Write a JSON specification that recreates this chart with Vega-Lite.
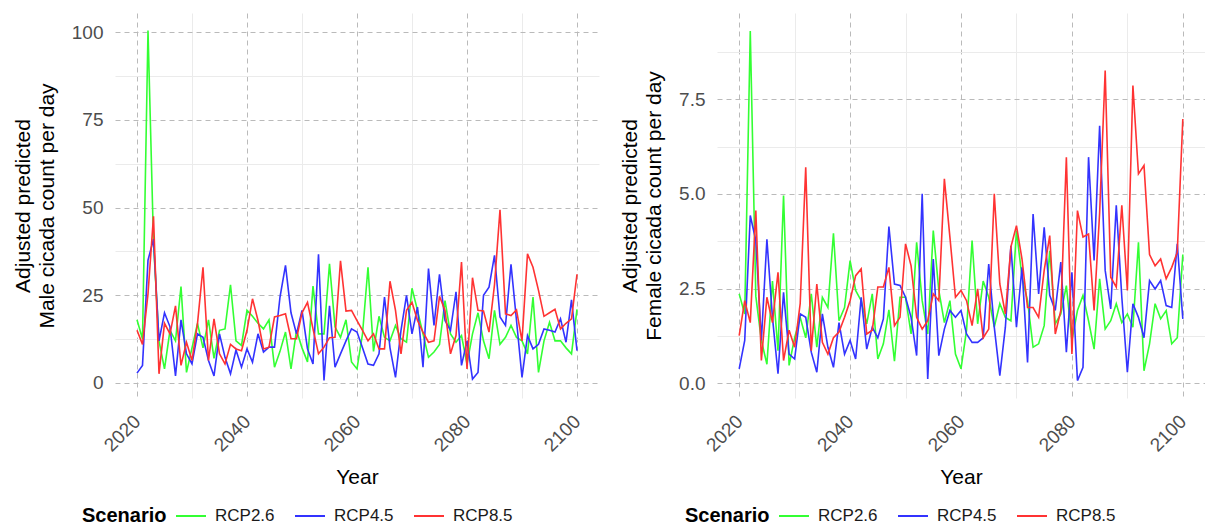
{
  "$schema": "https://vega.github.io/schema/vega-lite/v6.json",
  "padding": {"left": 12, "top": 13, "right": 0, "bottom": 0},
  "background": "white",
  "config": {
    "font": "Liberation Sans",
    "view": {"stroke": null},
    "concat": {"spacing": 20},
    "axis": {
      "domain": false,
      "ticks": false,
      "labelFontSize": 19,
      "labelColor": "#4d4d4d",
      "titleFontSize": 21,
      "titleFontWeight": "normal",
      "titleColor": "#000000",
      "labelFlush": false,
      "labelOverlap": false,
      "gridWidth": 1
    },
    "legend": {
      "orient": "none",
      "direction": "horizontal",
      "titleOrient": "left",
      "titleAnchor": "middle",
      "titleBaseline": "line-top",
      "titleLineHeight": 8,
      "titleFontSize": 20,
      "titleFontWeight": "bold",
      "titleColor": "#000000",
      "titlePadding": 8,
      "labelFontSize": 17,
      "labelColor": "#1a1a1a",
      "labelBaseline": "middle",
      "labelOffset": 8,
      "columnPadding": 16,
      "symbolType": "stroke",
      "symbolSize": 900,
      "symbolStrokeWidth": 2
    }
  },
  "datasets": {
    "cicada": [
      {"Year":2020,"Scenario":"RCP2.6","Male":18,"Female":2.36},{"Year":2021,"Scenario":"RCP2.6","Male":12.5,"Female":1.83},{"Year":2022,"Scenario":"RCP2.6","Male":100.5,"Female":9.3},{"Year":2023,"Scenario":"RCP2.6","Male":40,"Female":2.3},{"Year":2024,"Scenario":"RCP2.6","Male":12,"Female":1.13},{"Year":2025,"Scenario":"RCP2.6","Male":4,"Female":0.5},{"Year":2026,"Scenario":"RCP2.6","Male":15,"Female":2.7},{"Year":2027,"Scenario":"RCP2.6","Male":12,"Female":0.86},{"Year":2028,"Scenario":"RCP2.6","Male":27.5,"Female":4.96},{"Year":2029,"Scenario":"RCP2.6","Male":3,"Female":0.47},
      {"Year":2030,"Scenario":"RCP2.6","Male":10,"Female":1.2},{"Year":2031,"Scenario":"RCP2.6","Male":17,"Female":1.74},{"Year":2032,"Scenario":"RCP2.6","Male":10,"Female":1.2},{"Year":2033,"Scenario":"RCP2.6","Male":18,"Female":2.36},{"Year":2034,"Scenario":"RCP2.6","Male":7,"Female":0.95},{"Year":2035,"Scenario":"RCP2.6","Male":15,"Female":2.27},{"Year":2036,"Scenario":"RCP2.6","Male":15.4,"Female":2.0},{"Year":2037,"Scenario":"RCP2.6","Male":28,"Female":3.96},{"Year":2038,"Scenario":"RCP2.6","Male":12,"Female":1.65},{"Year":2039,"Scenario":"RCP2.6","Male":10.7,"Female":2.0},
      {"Year":2040,"Scenario":"RCP2.6","Male":20.7,"Female":3.24},{"Year":2041,"Scenario":"RCP2.6","Male":19,"Female":2.45},{"Year":2042,"Scenario":"RCP2.6","Male":17,"Female":2.18},{"Year":2043,"Scenario":"RCP2.6","Male":15.4,"Female":1.57},{"Year":2044,"Scenario":"RCP2.6","Male":18,"Female":2.36},{"Year":2045,"Scenario":"RCP2.6","Male":4.5,"Female":0.64},{"Year":2046,"Scenario":"RCP2.6","Male":9,"Female":1.04},{"Year":2047,"Scenario":"RCP2.6","Male":14.5,"Female":1.94},{"Year":2048,"Scenario":"RCP2.6","Male":4,"Female":0.58},{"Year":2049,"Scenario":"RCP2.6","Male":15,"Female":2.27},
      {"Year":2050,"Scenario":"RCP2.6","Male":10,"Female":2.27},{"Year":2051,"Scenario":"RCP2.6","Male":6,"Female":1.3},{"Year":2052,"Scenario":"RCP2.6","Male":27.6,"Female":3.72},{"Year":2053,"Scenario":"RCP2.6","Male":14,"Female":2.18},{"Year":2054,"Scenario":"RCP2.6","Male":14,"Female":1.3},{"Year":2055,"Scenario":"RCP2.6","Male":34,"Female":4.03},{"Year":2056,"Scenario":"RCP2.6","Male":16,"Female":2.45},{"Year":2057,"Scenario":"RCP2.6","Male":13,"Female":1.6},{"Year":2058,"Scenario":"RCP2.6","Male":18,"Female":2.18},{"Year":2059,"Scenario":"RCP2.6","Male":6,"Female":0.77},
      {"Year":2060,"Scenario":"RCP2.6","Male":4,"Female":0.38},{"Year":2061,"Scenario":"RCP2.6","Male":14,"Female":1.4},{"Year":2062,"Scenario":"RCP2.6","Male":33,"Female":3.77},{"Year":2063,"Scenario":"RCP2.6","Male":9,"Female":1.57},{"Year":2064,"Scenario":"RCP2.6","Male":19,"Female":2.7},{"Year":2065,"Scenario":"RCP2.6","Male":13,"Female":2.27},{"Year":2066,"Scenario":"RCP2.6","Male":12,"Female":1.48},{"Year":2067,"Scenario":"RCP2.6","Male":16.4,"Female":2.1},{"Year":2068,"Scenario":"RCP2.6","Male":12.6,"Female":1.74},{"Year":2069,"Scenario":"RCP2.6","Male":11.6,"Female":1.65},
      {"Year":2070,"Scenario":"RCP2.6","Male":27,"Female":4.03},{"Year":2071,"Scenario":"RCP2.6","Male":20.7,"Female":2.8},{"Year":2072,"Scenario":"RCP2.6","Male":14,"Female":2.18},{"Year":2073,"Scenario":"RCP2.6","Male":7.3,"Female":0.95},{"Year":2074,"Scenario":"RCP2.6","Male":8.8,"Female":1.04},{"Year":2075,"Scenario":"RCP2.6","Male":11,"Female":1.52},{"Year":2076,"Scenario":"RCP2.6","Male":23.5,"Female":3.5},{"Year":2077,"Scenario":"RCP2.6","Male":14,"Female":1.57},{"Year":2078,"Scenario":"RCP2.6","Male":11.6,"Female":1.83},{"Year":2079,"Scenario":"RCP2.6","Male":13.5,"Female":2.58},
      {"Year":2080,"Scenario":"RCP2.6","Male":5.4,"Female":1.13},{"Year":2081,"Scenario":"RCP2.6","Male":14,"Female":1.92},{"Year":2082,"Scenario":"RCP2.6","Male":20,"Female":2.32},{"Year":2083,"Scenario":"RCP2.6","Male":12,"Female":1.65},{"Year":2084,"Scenario":"RCP2.6","Male":6.9,"Female":0.9},{"Year":2085,"Scenario":"RCP2.6","Male":20.7,"Female":2.76},{"Year":2086,"Scenario":"RCP2.6","Male":11,"Female":1.43},{"Year":2087,"Scenario":"RCP2.6","Male":13,"Female":1.65},{"Year":2088,"Scenario":"RCP2.6","Male":16.4,"Female":2.1},{"Year":2089,"Scenario":"RCP2.6","Male":13,"Female":1.6},
      {"Year":2090,"Scenario":"RCP2.6","Male":12,"Female":1.83},{"Year":2091,"Scenario":"RCP2.6","Male":8.3,"Female":1.48},{"Year":2092,"Scenario":"RCP2.6","Male":24.5,"Female":3.72},{"Year":2093,"Scenario":"RCP2.6","Male":3,"Female":0.33},{"Year":2094,"Scenario":"RCP2.6","Male":12,"Female":1.04},{"Year":2095,"Scenario":"RCP2.6","Male":17.3,"Female":2.1},{"Year":2096,"Scenario":"RCP2.6","Male":12,"Female":1.7},{"Year":2097,"Scenario":"RCP2.6","Male":12,"Female":1.92},{"Year":2098,"Scenario":"RCP2.6","Male":10,"Female":1.04},{"Year":2099,"Scenario":"RCP2.6","Male":8.3,"Female":1.2},{"Year":2100,"Scenario":"RCP2.6","Male":21,"Female":3.4},

      {"Year":2020,"Scenario":"RCP4.5","Male":2.8,"Female":0.38},{"Year":2021,"Scenario":"RCP4.5","Male":5,"Female":1.13},{"Year":2022,"Scenario":"RCP4.5","Male":35,"Female":4.43},{"Year":2023,"Scenario":"RCP4.5","Male":41,"Female":3.77},{"Year":2024,"Scenario":"RCP4.5","Male":12,"Female":1.13},{"Year":2025,"Scenario":"RCP4.5","Male":20,"Female":3.8},{"Year":2026,"Scenario":"RCP4.5","Male":16,"Female":1.74},{"Year":2027,"Scenario":"RCP4.5","Male":2,"Female":0.25},{"Year":2028,"Scenario":"RCP4.5","Male":18,"Female":2.4},{"Year":2029,"Scenario":"RCP4.5","Male":8.3,"Female":0.77},
      {"Year":2030,"Scenario":"RCP4.5","Male":5.4,"Female":0.64},{"Year":2031,"Scenario":"RCP4.5","Male":14,"Female":1.83},{"Year":2032,"Scenario":"RCP4.5","Male":13,"Female":1.74},{"Year":2033,"Scenario":"RCP4.5","Male":6.4,"Female":0.82},{"Year":2034,"Scenario":"RCP4.5","Male":2,"Female":0.29},{"Year":2035,"Scenario":"RCP4.5","Male":14,"Female":1.83},{"Year":2036,"Scenario":"RCP4.5","Male":7.3,"Female":0.95},{"Year":2037,"Scenario":"RCP4.5","Male":2.6,"Female":0.42},{"Year":2038,"Scenario":"RCP4.5","Male":9.4,"Female":1.6},{"Year":2039,"Scenario":"RCP4.5","Male":4.5,"Female":0.77},
      {"Year":2040,"Scenario":"RCP4.5","Male":9.7,"Female":1.13},{"Year":2041,"Scenario":"RCP4.5","Male":5.9,"Female":0.64},{"Year":2042,"Scenario":"RCP4.5","Male":14,"Female":2.27},{"Year":2043,"Scenario":"RCP4.5","Male":8.8,"Female":0.9},{"Year":2044,"Scenario":"RCP4.5","Male":10.2,"Female":1.48},{"Year":2045,"Scenario":"RCP4.5","Male":10.2,"Female":1.2},{"Year":2046,"Scenario":"RCP4.5","Male":24.5,"Female":1.7},{"Year":2047,"Scenario":"RCP4.5","Male":33.5,"Female":4.14},{"Year":2048,"Scenario":"RCP4.5","Male":20,"Female":2.62},{"Year":2049,"Scenario":"RCP4.5","Male":14,"Female":2.58},
      {"Year":2050,"Scenario":"RCP4.5","Male":20.7,"Female":2.27},{"Year":2051,"Scenario":"RCP4.5","Male":9.7,"Female":1.74},{"Year":2052,"Scenario":"RCP4.5","Male":5.4,"Female":0.73},{"Year":2053,"Scenario":"RCP4.5","Male":36.7,"Female":5.0},{"Year":2054,"Scenario":"RCP4.5","Male":0.7,"Female":0.11},{"Year":2055,"Scenario":"RCP4.5","Male":22,"Female":3.28},{"Year":2056,"Scenario":"RCP4.5","Male":4.5,"Female":0.73},{"Year":2057,"Scenario":"RCP4.5","Male":8.3,"Female":1.43},{"Year":2058,"Scenario":"RCP4.5","Male":12,"Female":1.92},{"Year":2059,"Scenario":"RCP4.5","Male":15.4,"Female":1.74},
      {"Year":2060,"Scenario":"RCP4.5","Male":14.5,"Female":1.92},{"Year":2061,"Scenario":"RCP4.5","Male":10,"Female":1.3},{"Year":2062,"Scenario":"RCP4.5","Male":5.4,"Female":1.08},{"Year":2063,"Scenario":"RCP4.5","Male":5,"Female":1.08},{"Year":2064,"Scenario":"RCP4.5","Male":8.3,"Female":1.2},{"Year":2065,"Scenario":"RCP4.5","Male":24.5,"Female":3.15},{"Year":2066,"Scenario":"RCP4.5","Male":10,"Female":1.48},{"Year":2067,"Scenario":"RCP4.5","Male":1.6,"Female":0.2},{"Year":2068,"Scenario":"RCP4.5","Male":15,"Female":1.48},{"Year":2069,"Scenario":"RCP4.5","Male":25,"Female":3.63},
      {"Year":2070,"Scenario":"RCP4.5","Male":14,"Female":1.48},{"Year":2071,"Scenario":"RCP4.5","Male":21.6,"Female":3.06},{"Year":2072,"Scenario":"RCP4.5","Male":4.5,"Female":0.55},{"Year":2073,"Scenario":"RCP4.5","Male":32.6,"Female":4.47},{"Year":2074,"Scenario":"RCP4.5","Male":16.4,"Female":2.36},{"Year":2075,"Scenario":"RCP4.5","Male":31,"Female":4.12},{"Year":2076,"Scenario":"RCP4.5","Male":17.8,"Female":2.32},{"Year":2077,"Scenario":"RCP4.5","Male":15,"Female":1.92},{"Year":2078,"Scenario":"RCP4.5","Male":26,"Female":3.2},{"Year":2079,"Scenario":"RCP4.5","Male":5,"Female":0.82},
      {"Year":2080,"Scenario":"RCP4.5","Male":12,"Female":2.93},{"Year":2081,"Scenario":"RCP4.5","Male":1.1,"Female":0.07},{"Year":2082,"Scenario":"RCP4.5","Male":3,"Female":0.42},{"Year":2083,"Scenario":"RCP4.5","Male":25,"Female":5.97},{"Year":2084,"Scenario":"RCP4.5","Male":27.3,"Female":3.24},{"Year":2085,"Scenario":"RCP4.5","Male":36.4,"Female":6.8},{"Year":2086,"Scenario":"RCP4.5","Male":18.8,"Female":2.98},{"Year":2087,"Scenario":"RCP4.5","Male":16.4,"Female":1.96},{"Year":2088,"Scenario":"RCP4.5","Male":33.8,"Female":4.7},{"Year":2089,"Scenario":"RCP4.5","Male":17.8,"Female":2.27},
      {"Year":2090,"Scenario":"RCP4.5","Male":1.6,"Female":0.29},{"Year":2091,"Scenario":"RCP4.5","Male":13.5,"Female":2.1},{"Year":2092,"Scenario":"RCP4.5","Male":9.7,"Female":1.74},{"Year":2093,"Scenario":"RCP4.5","Male":11,"Female":1.2},{"Year":2094,"Scenario":"RCP4.5","Male":15.4,"Female":2.71},{"Year":2095,"Scenario":"RCP4.5","Male":15,"Female":2.49},{"Year":2096,"Scenario":"RCP4.5","Male":14.5,"Female":2.71},{"Year":2097,"Scenario":"RCP4.5","Male":18.3,"Female":2.05},{"Year":2098,"Scenario":"RCP4.5","Male":11.6,"Female":2.0},{"Year":2099,"Scenario":"RCP4.5","Male":23.7,"Female":3.68},{"Year":2100,"Scenario":"RCP4.5","Male":9.2,"Female":1.7},

      {"Year":2020,"Scenario":"RCP8.5","Male":15,"Female":1.26},{"Year":2021,"Scenario":"RCP8.5","Male":11,"Female":2.18},{"Year":2022,"Scenario":"RCP8.5","Male":25.4,"Female":1.6},{"Year":2023,"Scenario":"RCP8.5","Male":47.5,"Female":4.56},{"Year":2024,"Scenario":"RCP8.5","Male":2.6,"Female":0.6},{"Year":2025,"Scenario":"RCP8.5","Male":17,"Female":2.27},{"Year":2026,"Scenario":"RCP8.5","Male":14,"Female":1.6},{"Year":2027,"Scenario":"RCP8.5","Male":22,"Female":2.93},{"Year":2028,"Scenario":"RCP8.5","Male":5,"Female":0.6},{"Year":2029,"Scenario":"RCP8.5","Male":11.6,"Female":1.4},
      {"Year":2030,"Scenario":"RCP8.5","Male":6.4,"Female":0.95},{"Year":2031,"Scenario":"RCP8.5","Male":17,"Female":2.1},{"Year":2032,"Scenario":"RCP8.5","Male":33,"Female":5.7},{"Year":2033,"Scenario":"RCP8.5","Male":6.4,"Female":0.86},{"Year":2034,"Scenario":"RCP8.5","Male":18.3,"Female":2.62},{"Year":2035,"Scenario":"RCP8.5","Male":8.3,"Female":1.08},{"Year":2036,"Scenario":"RCP8.5","Male":5.4,"Female":0.77},{"Year":2037,"Scenario":"RCP8.5","Male":11,"Female":1.2},{"Year":2038,"Scenario":"RCP8.5","Male":9.7,"Female":1.35},{"Year":2039,"Scenario":"RCP8.5","Male":9.2,"Female":1.74},
      {"Year":2040,"Scenario":"RCP8.5","Male":15,"Female":2.18},{"Year":2041,"Scenario":"RCP8.5","Male":24,"Female":2.84},{"Year":2042,"Scenario":"RCP8.5","Male":17.8,"Female":3.02},{"Year":2043,"Scenario":"RCP8.5","Male":9.7,"Female":1.3},{"Year":2044,"Scenario":"RCP8.5","Male":10.2,"Female":1.4},{"Year":2045,"Scenario":"RCP8.5","Male":18.8,"Female":2.54},{"Year":2046,"Scenario":"RCP8.5","Male":19.2,"Female":2.54},{"Year":2047,"Scenario":"RCP8.5","Male":19.7,"Female":3.06},{"Year":2048,"Scenario":"RCP8.5","Male":12.6,"Female":1.52},{"Year":2049,"Scenario":"RCP8.5","Male":12.6,"Female":1.74},
      {"Year":2050,"Scenario":"RCP8.5","Male":20,"Female":3.68},{"Year":2051,"Scenario":"RCP8.5","Male":23,"Female":3.1},{"Year":2052,"Scenario":"RCP8.5","Male":15.4,"Female":1.74},{"Year":2053,"Scenario":"RCP8.5","Male":8.3,"Female":1.43},{"Year":2054,"Scenario":"RCP8.5","Male":10.2,"Female":1.65},{"Year":2055,"Scenario":"RCP8.5","Male":12.9,"Female":2.36},{"Year":2056,"Scenario":"RCP8.5","Male":13,"Female":2.18},{"Year":2057,"Scenario":"RCP8.5","Male":34.8,"Female":5.4},{"Year":2058,"Scenario":"RCP8.5","Male":20.5,"Female":3.86},{"Year":2059,"Scenario":"RCP8.5","Male":20.7,"Female":2.27},
      {"Year":2060,"Scenario":"RCP8.5","Male":17.8,"Female":2.45},{"Year":2061,"Scenario":"RCP8.5","Male":15,"Female":2.18},{"Year":2062,"Scenario":"RCP8.5","Male":12,"Female":1.52},{"Year":2063,"Scenario":"RCP8.5","Male":14,"Female":2.49},{"Year":2064,"Scenario":"RCP8.5","Male":9.7,"Female":1.2},{"Year":2065,"Scenario":"RCP8.5","Male":9.7,"Female":1.43},{"Year":2066,"Scenario":"RCP8.5","Male":29,"Female":5.0},{"Year":2067,"Scenario":"RCP8.5","Male":20.7,"Female":2.62},{"Year":2068,"Scenario":"RCP8.5","Male":8.3,"Female":1.83},{"Year":2069,"Scenario":"RCP8.5","Male":20.7,"Female":3.6},
      {"Year":2070,"Scenario":"RCP8.5","Male":23,"Female":4.16},{"Year":2071,"Scenario":"RCP8.5","Male":17.8,"Female":3.28},{"Year":2072,"Scenario":"RCP8.5","Male":14.5,"Female":2.0},{"Year":2073,"Scenario":"RCP8.5","Male":11.6,"Female":2.0},{"Year":2074,"Scenario":"RCP8.5","Male":12,"Female":1.74},{"Year":2075,"Scenario":"RCP8.5","Male":24.7,"Female":2.98},{"Year":2076,"Scenario":"RCP8.5","Male":20.7,"Female":3.9},{"Year":2077,"Scenario":"RCP8.5","Male":8.3,"Female":1.3},{"Year":2078,"Scenario":"RCP8.5","Male":13.5,"Female":1.92},{"Year":2079,"Scenario":"RCP8.5","Male":34.5,"Female":5.97},
      {"Year":2080,"Scenario":"RCP8.5","Male":4,"Female":0.77},{"Year":2081,"Scenario":"RCP8.5","Male":30,"Female":4.56},{"Year":2082,"Scenario":"RCP8.5","Male":20.7,"Female":3.86},{"Year":2083,"Scenario":"RCP8.5","Male":20.5,"Female":3.94},{"Year":2084,"Scenario":"RCP8.5","Male":14.5,"Female":1.92},{"Year":2085,"Scenario":"RCP8.5","Male":28,"Female":4.5},{"Year":2086,"Scenario":"RCP8.5","Male":49.4,"Female":8.26},{"Year":2087,"Scenario":"RCP8.5","Male":19.7,"Female":2.8},{"Year":2088,"Scenario":"RCP8.5","Male":19.2,"Female":2.54},{"Year":2089,"Scenario":"RCP8.5","Male":20.8,"Female":4.7},
      {"Year":2090,"Scenario":"RCP8.5","Male":12,"Female":2.45},{"Year":2091,"Scenario":"RCP8.5","Male":36.8,"Female":7.86},{"Year":2092,"Scenario":"RCP8.5","Male":33,"Female":5.53},{"Year":2093,"Scenario":"RCP8.5","Male":26.4,"Female":5.75},{"Year":2094,"Scenario":"RCP8.5","Male":19,"Female":3.4},{"Year":2095,"Scenario":"RCP8.5","Male":20,"Female":3.1},{"Year":2096,"Scenario":"RCP8.5","Male":21,"Female":3.28},{"Year":2097,"Scenario":"RCP8.5","Male":15.4,"Female":2.76},{"Year":2098,"Scenario":"RCP8.5","Male":17,"Female":3.06},{"Year":2099,"Scenario":"RCP8.5","Male":18.3,"Female":3.46},{"Year":2100,"Scenario":"RCP8.5","Male":31,"Female":6.98}
    ]
  },
  "data": {"name": "cicada"},
  "hconcat": [
    {
      "width": 484,
      "height": 385,
      "mark": {"type": "line", "strokeWidth": 1.6},
      "encoding": {
        "x": {
          "field": "Year", "type": "quantitative",
          "scale": {"domain": [2016, 2104], "nice": false, "zero": false},
          "axis": {
            "title": "Year",
            "values": [2020, 2030, 2040, 2050, 2060, 2070, 2080, 2090, 2100],
            "labelExpr": "datum.value % 20 === 0 ? datum.label : ''",
            "format": "d",
            "labelAngle": -45,
            "labelAlign": "right",
            "labelBaseline": "middle",
            "labelPadding": 20,
            "titlePadding": 12,
            "gridColor": {"condition": {"test": "datum.value % 20 === 0", "value": "#bababa"}, "value": "#ebebeb"},
            "gridDash": {"condition": {"test": "datum.value % 20 === 0", "value": [5, 4]}, "value": []}
          }
        },
        "y": {
          "field": "Male", "type": "quantitative",
          "scale": {"domain": [-4.3, 105.5], "nice": false, "zero": false},
          "axis": {
            "title": ["Adjusted predicted", "Male cicada count per day"],
            "titleLineHeight": 24,
            "values": [0, 12.5, 25, 37.5, 50, 62.5, 75, 87.5, 100],
            "labelExpr": "datum.value % 25 === 0 ? datum.label : ''",
            "labelPadding": 12,
            "titlePadding": 14,
            "gridColor": {"condition": {"test": "datum.value % 25 === 0", "value": "#bababa"}, "value": "#ebebeb"},
            "gridDash": {"condition": {"test": "datum.value % 25 === 0", "value": [5, 4]}, "value": []}
          }
        },
        "color": {
          "field": "Scenario", "type": "nominal",
          "scale": {"domain": ["RCP2.6", "RCP4.5", "RCP8.5"], "range": ["#33ff33", "#3333ff", "#ff3333"]},
          "legend": {"title": "Scenario", "legendX": -33, "legendY": 487}
        }
      }
    },
    {
      "width": 488,
      "height": 385,
      "mark": {"type": "line", "strokeWidth": 1.6},
      "encoding": {
        "x": {
          "field": "Year", "type": "quantitative",
          "scale": {"domain": [2016, 2104], "nice": false, "zero": false},
          "axis": {
            "title": "Year",
            "values": [2020, 2030, 2040, 2050, 2060, 2070, 2080, 2090, 2100],
            "labelExpr": "datum.value % 20 === 0 ? datum.label : ''",
            "format": "d",
            "labelAngle": -45,
            "labelAlign": "right",
            "labelBaseline": "middle",
            "labelPadding": 20,
            "titlePadding": 12,
            "gridColor": {"condition": {"test": "datum.value % 20 === 0", "value": "#bababa"}, "value": "#ebebeb"},
            "gridDash": {"condition": {"test": "datum.value % 20 === 0", "value": [5, 4]}, "value": []}
          }
        },
        "y": {
          "field": "Female", "type": "quantitative",
          "scale": {"domain": [-0.39, 9.777], "nice": false, "zero": false},
          "axis": {
            "title": ["Adjusted predicted", "Female cicada count per day"],
            "titleLineHeight": 24,
            "values": [0, 1.25, 2.5, 3.75, 5, 6.25, 7.5, 8.75],
            "format": ".1f",
            "labelExpr": "datum.value % 2.5 === 0 ? datum.label : ''",
            "labelPadding": 12,
            "titlePadding": 14,
            "gridColor": {"condition": {"test": "datum.value % 2.5 === 0", "value": "#bababa"}, "value": "#ebebeb"},
            "gridDash": {"condition": {"test": "datum.value % 2.5 === 0", "value": [5, 4]}, "value": []}
          }
        },
        "color": {
          "field": "Scenario", "type": "nominal",
          "scale": {"domain": ["RCP2.6", "RCP4.5", "RCP8.5"], "range": ["#33ff33", "#3333ff", "#ff3333"]},
          "legend": {"title": "Scenario", "legendX": -32, "legendY": 487}
        }
      }
    }
  ],
  "resolve": {"scale": {"color": "independent"}}
}
